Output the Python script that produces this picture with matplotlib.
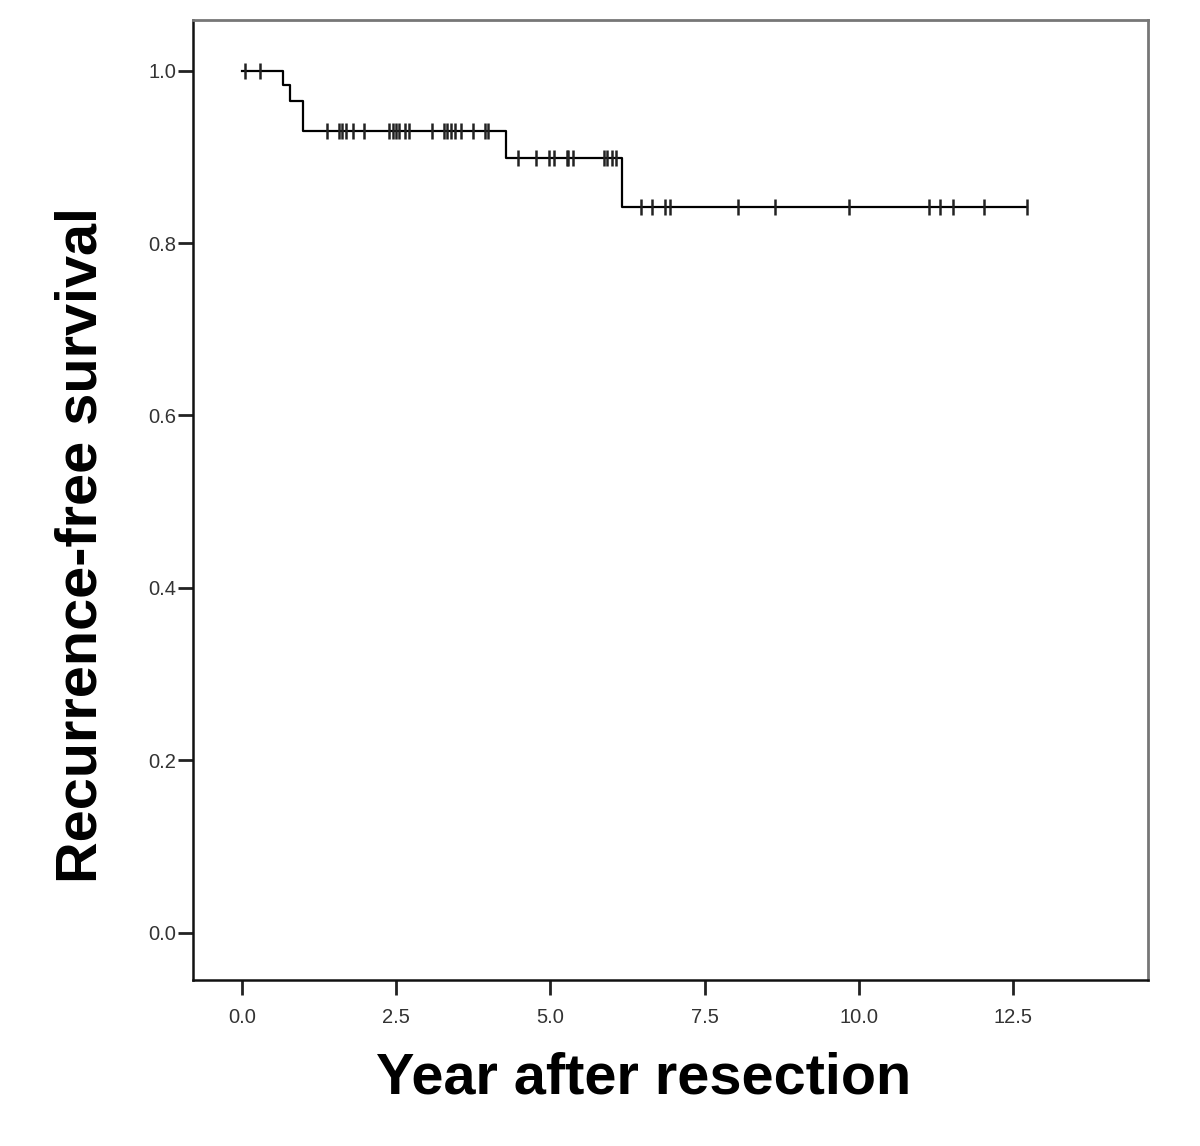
import numpy as np
import matplotlib.pyplot as plt

# Kaplan-Meier curve
event_years = [0.67, 0.78, 0.99, 4.28, 6.16]
survival = [0.983, 0.965, 0.930, 0.899, 0.842]
censored_years = [0.05, 0.30,
                  1.38, 1.58, 1.62, 1.69, 1.80, 1.97, 2.39, 2.44, 2.50, 2.55,
                  2.65, 2.70, 3.08, 3.27, 3.32, 3.39, 3.46, 3.55, 3.75, 3.94, 3.98,
                  4.47, 4.77, 4.98, 5.06, 5.26, 5.29, 5.36, 5.86, 5.92, 5.99, 6.07,
                  6.46, 6.65, 6.85, 6.94, 8.04, 8.64, 9.83, 11.13, 11.32, 11.52,
                  12.02, 12.72]
x_ticks = [0.0, 2.5, 5.0, 7.5, 10.0, 12.5]
y_ticks = [0.0, 0.2, 0.4, 0.6, 0.8, 1.0]

plt.rcParams['font.family'] = ['Liberation Sans', 'DejaVu Sans']

fig = plt.figure(figsize=(12, 11.46), dpi=100)
ax = fig.add_axes([0.161, 0.1449, 0.796, 0.8377])

# step line from 0 to the last censored time
t = np.concatenate([[0.0], event_years, [max(censored_years)]])
s = np.concatenate([[1.0], survival, [survival[-1]]])
ax.step(t, s, where='post', color='black', lw=1.6)

# censor marks sit on the curve
idx = np.searchsorted(event_years, censored_years, side='right')
levels = np.concatenate([[1.0], survival])[idx]
ax.plot(censored_years, levels, linestyle='none', marker='|',
        markersize=11, markeredgewidth=1.8, color='#222222')

ax.set_xlim(-0.79, 14.69)
ax.set_ylim(-0.055, 1.059)
ax.set_xticks(x_ticks)
ax.set_xticklabels([f"{v:.1f}" for v in x_ticks])
ax.set_yticks(y_ticks)
ax.set_yticklabels([f"{v:.1f}" for v in y_ticks])
ax.tick_params(direction='out', length=11, width=2, labelsize=14.5,
               labelcolor='#333333', color='#222222')
ax.tick_params(axis='x', pad=9)
ax.tick_params(axis='y', pad=1)

for side in ['left', 'bottom']:
    ax.spines[side].set_color('#111111')
    ax.spines[side].set_linewidth(1.8)
for side in ['top', 'right']:
    ax.spines[side].set_color('#777777')
    ax.spines[side].set_linewidth(2)

ax.set_xlabel("Year after resection", fontsize=41.5, fontweight='bold')
ax.set_ylabel("Recurrence-free survival", fontsize=41.5, fontweight='bold')
ax.xaxis.set_label_coords(0.472, -0.075)
ax.yaxis.set_label_coords(-0.089, 0.453)

plt.savefig("out.png", dpi=100)
